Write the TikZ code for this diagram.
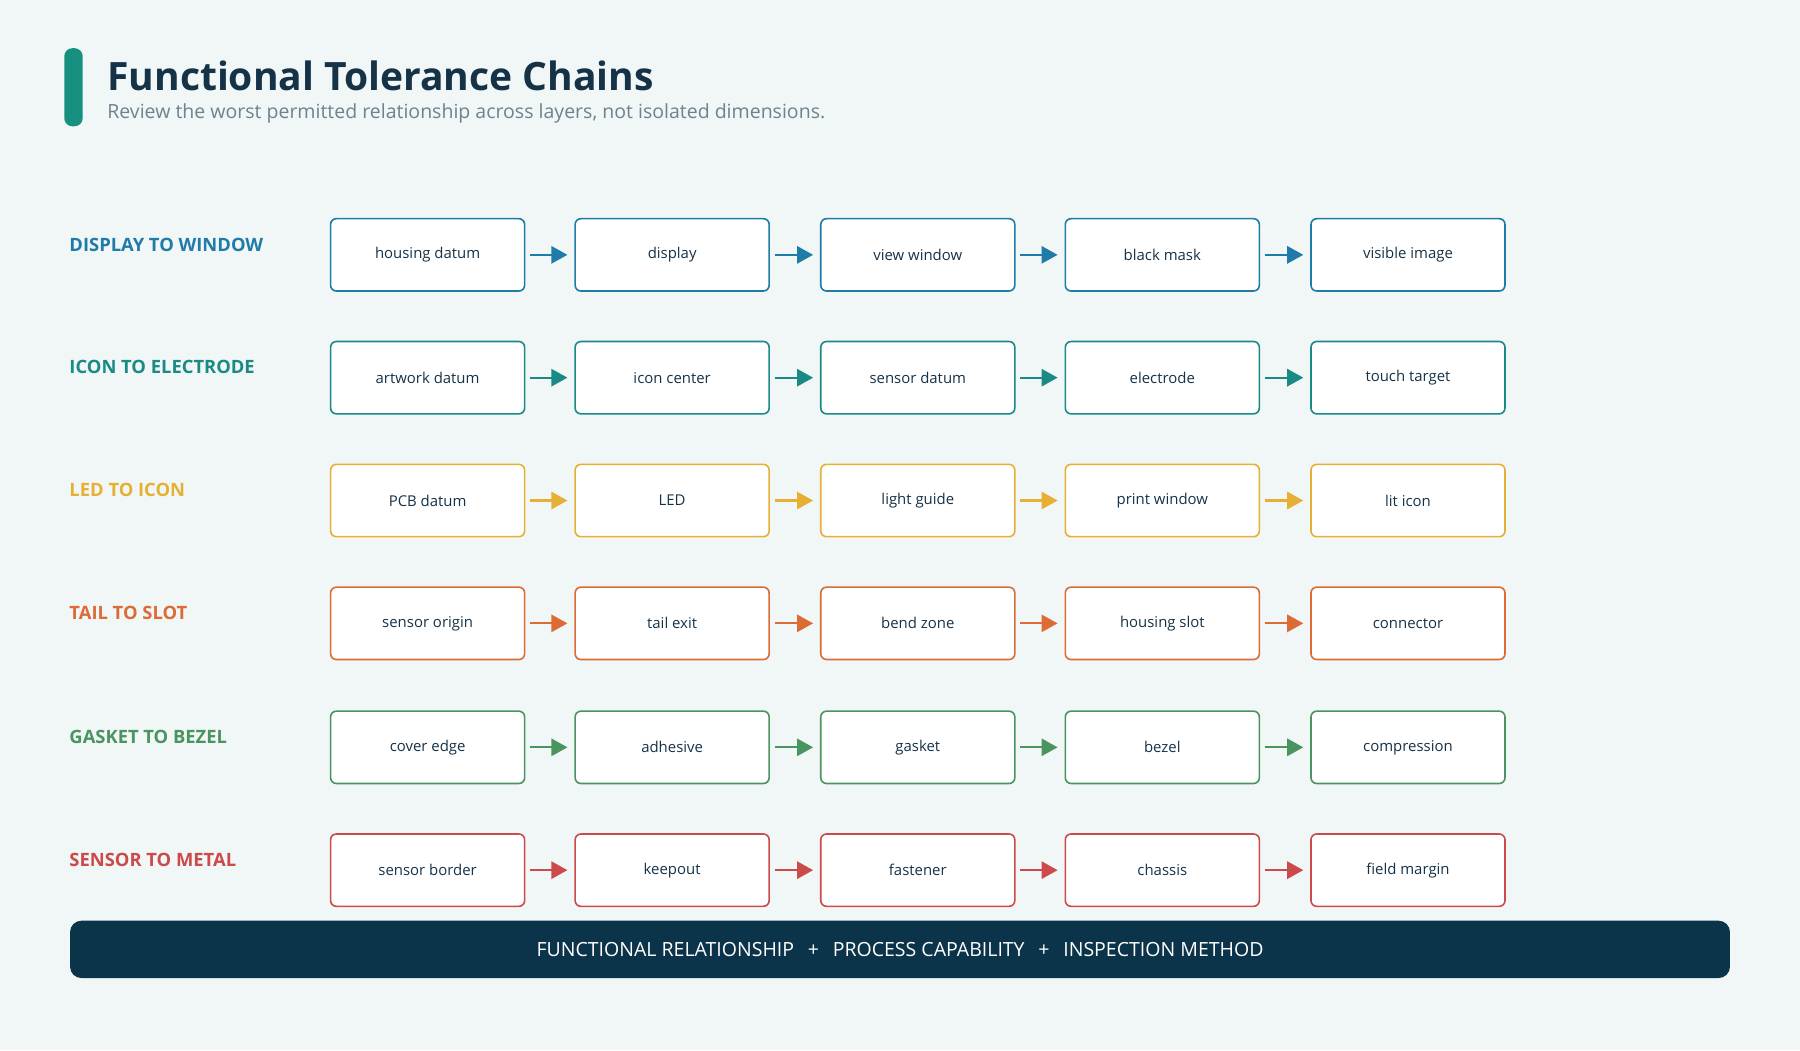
\documentclass[tikz,border=0pt]{standalone}
\usepackage{fontspec}
\setmainfont{Open Sans}
\usetikzlibrary{arrows.meta,positioning}
\definecolor{bgc}{HTML}{F1F6F6}
\definecolor{ink}{HTML}{163247}
\definecolor{sub}{HTML}{6E8290}
\definecolor{bar}{HTML}{0B3349}
\definecolor{accent}{HTML}{17907F}
\definecolor{cA}{HTML}{1F7CA8}
\definecolor{cB}{HTML}{1A8A84}
\definecolor{cC}{HTML}{E6B035}
\definecolor{cD}{HTML}{DD6B35}
\definecolor{cE}{HTML}{4A9460}
\definecolor{cF}{HTML}{CC4A4A}
\tikzset{x=1pt, y=-1pt,
	step/.style={draw=#1, fill=white, line width=1.4pt, rounded corners=5pt,
		minimum width=169pt, minimum height=63pt, inner sep=0pt,
		font=\fontsize{13}{15}\selectfont, text=ink},
	link/.style={draw=#1, line width=2pt, -{Triangle[length=14pt,width=15pt]}, shorten <=4pt, shorten >=6pt},
	rowname/.style={anchor=west, text=#1, font=\fontsize{16}{19}\selectfont\bfseries}
}
\begin{document}
\begin{tikzpicture}
	\fill[bgc] (0,0) rectangle (1568,915);
	\useasboundingbox (0,0) rectangle (1568,915);
	% header
	\fill[accent, rounded corners=7pt] (56,42) rectangle (72,110);
	\node[anchor=west, text=ink, font=\fontsize{34}{40}\selectfont\bfseries] (title) at (90,66) {Functional Tolerance Chains};
	\node[anchor=west, text=sub, font=\fontsize{17}{20}\selectfont] (subtitle) at (90,99) {Review the worst permitted relationship across layers, not isolated dimensions.};
	% chains
	\foreach \y/\c/\name/\a/\b/\d/\e/\f [count=\r] in {
		222/cA/DISPLAY TO WINDOW/housing datum/display/view window/black mask/visible image,
		329/cB/ICON TO ELECTRODE/artwork datum/icon center/sensor datum/electrode/touch target,
		436/cC/LED TO ICON/PCB datum/LED/light guide/print window/lit icon,
		543/cD/TAIL TO SLOT/sensor origin/tail exit/bend zone/housing slot/connector,
		651/cE/GASKET TO BEZEL/cover edge/adhesive/gasket/bezel/compression,
		758/cF/SENSOR TO METAL/sensor border/keepout/fastener/chassis/field margin}
	{
		\node[rowname=\c] (r\r) at (57,\y-9) {\name};
		\node[step=\c] (b\r-1) at (372.5,\y) {\a};
		\node[step=\c] (b\r-2) at (585.5,\y) {\b};
		\node[step=\c] (b\r-3) at (799.5,\y) {\d};
		\node[step=\c] (b\r-4) at (1012.5,\y) {\e};
		\node[step=\c] (b\r-5) at (1226.5,\y) {\f};
		\foreach \i [evaluate=\i as \j using int(\i+1)] in {1,...,4}
			\draw[link=\c] (b\r-\i) -- (b\r-\j);
	}
	% footer
	\node[fill=bar, rounded corners=10pt, minimum width=1446pt, minimum height=50pt,
		text=white, font=\fontsize{17}{20}\selectfont] (footer) at (784,827)
		{FUNCTIONAL RELATIONSHIP\hspace{12pt}+\hspace{12pt}PROCESS CAPABILITY\hspace{12pt}+\hspace{12pt}INSPECTION METHOD};
\end{tikzpicture}
\end{document}
